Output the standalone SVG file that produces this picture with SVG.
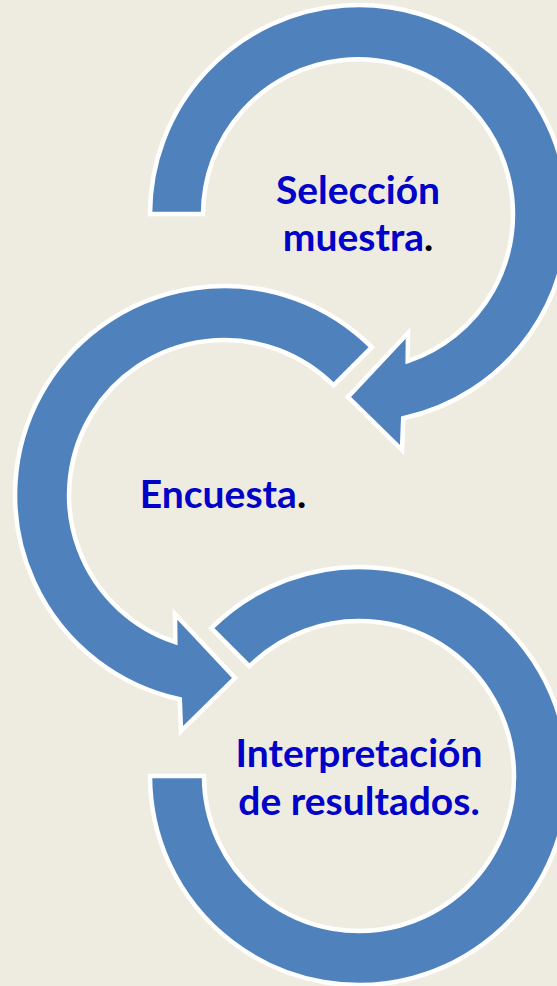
<svg xmlns="http://www.w3.org/2000/svg" width="557" height="986" viewBox="0 0 557 986">
<style>
.arr{fill:#4F81BD;stroke:#FFFFFF;stroke-width:4.5;stroke-linejoin:miter}
.lbl{font-family:Lato,"Liberation Sans",sans-serif;font-weight:bold;font-size:39px;fill:#0000C8;text-anchor:middle}
.dot{fill:#000000}
</style>
<rect width="557" height="986" fill="#EEECE1"/>
<g id="connectors">
<path id="arrow1" class="arr" d="M150,214 A209,209 0 1 1 403.2,418.3 L402,450 L348,397 L408,333 L407.7,361.2 A155,155 0 1 0 203,214 Z"/>
<path id="arrow2" class="arr" d="M371.8,347.2 A209,209 0 1 0 179.8,699.3 L181,731 L235,678 L175,614 L175.3,642.2 A155,155 0 1 1 333.6,385.4 Z"/>
<path id="arrow3" class="arr" d="M211.2,628.2 A209,209 0 1 1 150,776 L204,776 A155,155 0 1 0 249.4,666.4 Z"/>
</g>
<g id="node1">
<text class="lbl" x="358" y="204">Selección</text>
<text class="lbl" x="358" y="251">muestra<tspan class="dot">.</tspan></text>
</g>
<g id="node2">
<text class="lbl" x="223" y="508">Encuesta<tspan class="dot">.</tspan></text>
</g>
<g id="node3">
<text class="lbl" x="359" y="767">Interpretación</text>
<text class="lbl" x="359" y="815">de resultados.</text>
</g>
</svg>
